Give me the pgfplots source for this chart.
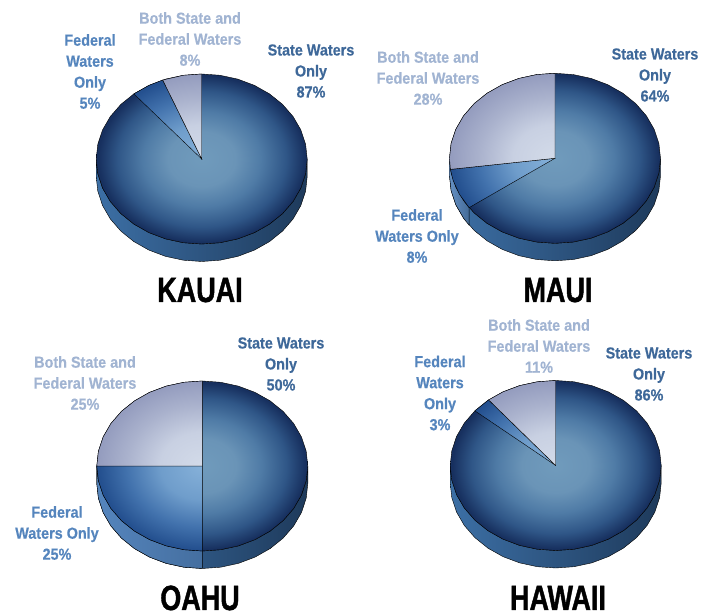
\documentclass[border=0pt]{standalone}
\usepackage{fontspec}
\usepackage{pgfplots}
\pgfplotsset{compat=1.18}
\setmainfont{Liberation Sans}
\newfontfamily\labfont[FakeStretch=0.9,BoldFeatures={FakeBold=0.4}]{Liberation Sans}
\newfontfamily\titfont[FakeStretch=0.77,BoldFeatures={FakeBold=1.2}]{Liberation Sans}
\definecolor{labS}{HTML}{3E6899}
\definecolor{labF}{HTML}{5585BD}
\definecolor{labB}{HTML}{A1B4D2}
\definecolor{wallL}{HTML}{3C6FA5}
\definecolor{wallR}{HTML}{1E3A5B}
\definecolor{stA}{HTML}{709BBC}\definecolor{stB}{HTML}{6A94B7}\definecolor{stC}{HTML}{4F7BA6}\definecolor{stD}{HTML}{2F5687}\definecolor{stE}{HTML}{17305F}
\definecolor{feA}{HTML}{86B1D9}\definecolor{feB}{HTML}{6F9DCB}\definecolor{feC}{HTML}{4272AD}\definecolor{feD}{HTML}{24508F}
\definecolor{boA}{HTML}{D3DBE9}\definecolor{boB}{HTML}{C8D0E2}\definecolor{boC}{HTML}{AAB2CD}\definecolor{boD}{HTML}{959DBF}
\pgfdeclareradialshading{stateP}{\pgfpoint{0bp}{0bp}}{%
 color(0bp)=(stA);color(8bp)=(stB);color(14bp)=(stC);color(20bp)=(stD);color(24.5bp)=(stE);color(100bp)=(stE)}
\pgfdeclareradialshading{fedP}{\pgfpoint{0bp}{0bp}}{%
 color(0bp)=(feA);color(10bp)=(feB);color(18bp)=(feC);color(24.5bp)=(feD);color(100bp)=(feD)}
\pgfdeclareradialshading{bothP}{\pgfpoint{0bp}{0bp}}{%
 color(0bp)=(boA);color(10bp)=(boB);color(18bp)=(boC);color(24.5bp)=(boD);color(100bp)=(boD)}
\pgfplotsset{pieaxis/.style={scale only axis,width=211pt,height=170pt,xmin=-1,xmax=1,ymin=-1,ymax=1,hide axis,clip=false,anchor=center}}
% wall and full top ellipse of one pie
\newcommand\PieBase{%
 \addplot[left color=wallL,right color=wallR,draw=black,line width=0.4pt] coordinates {
  (-1,0)(-.9848,-.1736)(-.9397,-.3420)(-.866,-.5)(-.766,-.6428)(-.6428,-.766)(-.5,-.866)(-.342,-.9397)(-.1736,-.9848)(0,-1)
  (.1736,-.9848)(.342,-.9397)(.5,-.866)(.6428,-.766)(.766,-.6428)(.866,-.5)(.9397,-.342)(.9848,-.1736)(1,0)
  (1,-.206)(.9848,-.3796)(.9397,-.548)(.866,-.706)(.766,-.8488)(.6428,-.972)(.5,-1.072)(.342,-1.1457)(.1736,-1.1908)(0,-1.206)
  (-.1736,-1.1908)(-.342,-1.1457)(-.5,-1.072)(-.6428,-.972)(-.766,-.8488)(-.866,-.706)(-.9397,-.548)(-.9848,-.3796)(-1,-.206)} --cycle;
 \addplot[shade,shading=stateP,draw=black,line width=0.4pt,data cs=polar] coordinates {
  (0,1)(10,1)(20,1)(30,1)(40,1)(50,1)(60,1)(70,1)(80,1)(90,1)(100,1)(110,1)(120,1)(130,1)(140,1)(150,1)(160,1)(170,1)
  (180,1)(190,1)(200,1)(210,1)(220,1)(230,1)(240,1)(250,1)(260,1)(270,1)(280,1)(290,1)(300,1)(310,1)(320,1)(330,1)(340,1)(350,1)} --cycle;
}
% a wedge: shading is fitted to the whole pie through the two corner points
\newcommand\Wedge[2]{%
 \addplot[shade,shading=#1,draw=none,data cs=polar] coordinates {
  (225,1.41421)

  (45,1.41421)

  (0,0)#2} --cycle;
 \addplot[draw=black,line width=0.4pt,data cs=polar] coordinates {(0,0)#2} --cycle;
}
\newcommand\Lab[4]{\node[text=#3,align=center,font=\labfont\bfseries\fontsize{16}{21}\selectfont] at (#1pt,{(612-#2)*1pt}) {#4};}
\newcommand\Tit[3]{\node[anchor=base,text=black,font=\titfont\bfseries\fontsize{35}{35}\selectfont] at (#1pt,{(612-#2)*1pt}) {#3};}
\begin{document}
\begin{tikzpicture}
\path[use as bounding box,clip] (0,0) rectangle (702pt,612pt);
% KAUAI
\begin{axis}[pieaxis,at={(201.7pt,453pt)}]
 \PieBase
 \Wedge{fedP}{(111.7,1)(120,1)(130,1)}
 \Wedge{bothP}{(90,1)(100,1)(111.7,1)}
\end{axis}
% MAUI
\begin{axis}[pieaxis,at={(555pt,453.7pt)}]
 \PieBase
 \addplot[left color=labF!90!white,right color=labF!80!black,draw=black,line width=0.4pt] coordinates {
  (-1,0)(-.9848,-.1736)(-.9397,-.342)(-.866,-.5)(-.814,-.581)(-.814,-.787)(-.866,-.706)(-.9397,-.548)(-.9848,-.3796)(-1,-.206)} --cycle;
 \Wedge{fedP}{(187.5,1)(195,1)(205,1)(215.5,1)}
 \Wedge{bothP}{(90,1)(100,1)(110,1)(120,1)(130,1)(140,1)(150,1)(160,1)(170,1)(180,1)(187.5,1)}
\end{axis}
% OAHU
\begin{axis}[pieaxis,at={(202.3pt,146pt)}]
 \PieBase
 \addplot[left color=labF,right color=labF!70!wallR,draw=black,line width=0.4pt] coordinates {
  (-1,0)(-.9848,-.1736)(-.9397,-.3420)(-.866,-.5)(-.766,-.6428)(-.6428,-.766)(-.5,-.866)(-.342,-.9397)(-.1736,-.9848)(0,-1)
  (0,-1.206)(-.1736,-1.1908)(-.342,-1.1457)(-.5,-1.072)(-.6428,-.972)(-.766,-.8488)(-.866,-.706)(-.9397,-.548)(-.9848,-.3796)(-1,-.206)} --cycle;
 \Wedge{fedP}{(180,1)(190,1)(200,1)(210,1)(220,1)(230,1)(240,1)(250,1)(260,1)(270,1)}
 \Wedge{bothP}{(90,1)(100,1)(110,1)(120,1)(130,1)(140,1)(150,1)(160,1)(170,1)(180,1)}
\end{axis}
% HAWAII
\begin{axis}[pieaxis,at={(555.7pt,146.5pt)}]
 \PieBase
 \Wedge{fedP}{(129.5,1)(140,1)}
 \Wedge{bothP}{(90,1)(100,1)(110,1)(120,1)(129.5,1)}
\end{axis}
\Lab{190}{39}{labB}{Both State and\\Federal Waters\\8\%}
\Lab{90}{71.5}{labF}{Federal\\Waters\\Only\\5\%}
\Lab{311}{71}{labS}{State Waters\\Only\\87\%}
\Lab{428}{78}{labB}{Both State and\\Federal Waters\\28\%}
\Lab{417}{236}{labF}{Federal\\Waters Only\\8\%}
\Lab{655}{75}{labS}{State Waters\\Only\\64\%}
\Lab{85}{383}{labB}{Both State and\\Federal Waters\\25\%}
\Lab{57}{533}{labF}{Federal\\Waters Only\\25\%}
\Lab{281}{364}{labS}{State Waters\\Only\\50\%}
\Lab{539}{346}{labB}{Both State and\\Federal Waters\\11\%}
\Lab{440}{393}{labF}{Federal\\Waters\\Only\\3\%}
\Lab{649}{374}{labS}{State Waters\\Only\\86\%}
\Tit{200}{302}{KAUAI}
\Tit{558}{302}{MAUI}
\Tit{200}{610}{OAHU}
\Tit{558}{610}{HAWAII}
\end{tikzpicture}
\end{document}
